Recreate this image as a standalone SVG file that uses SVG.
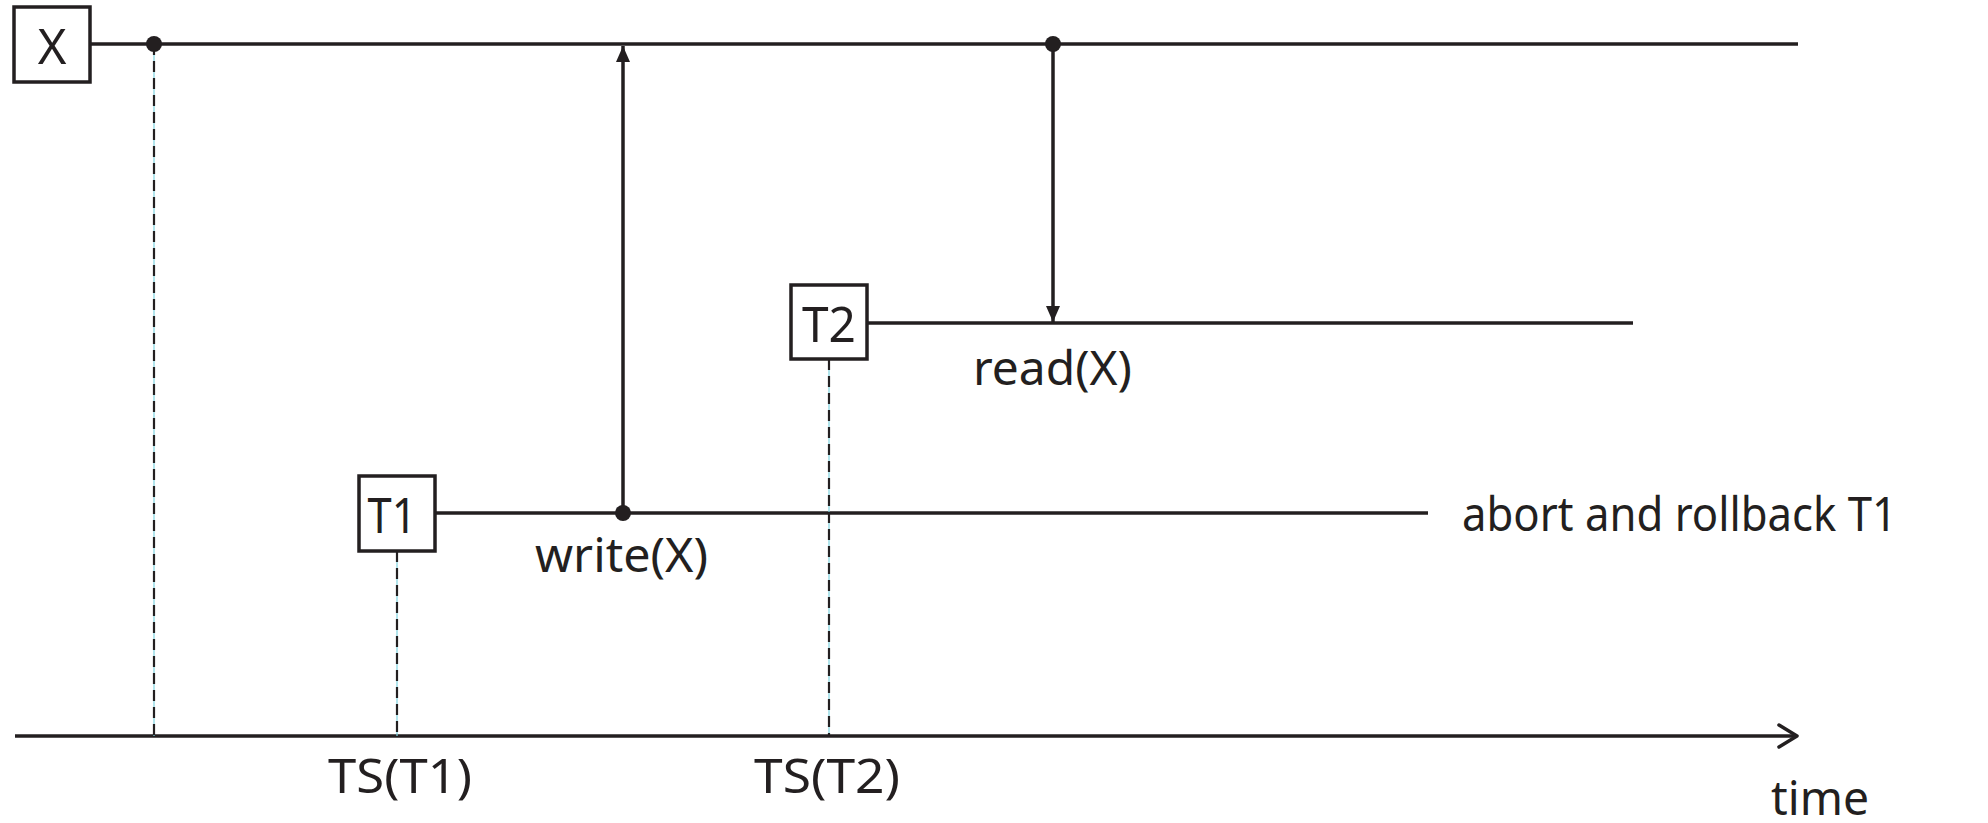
<svg xmlns="http://www.w3.org/2000/svg" width="1988" height="823" viewBox="0 0 1988 823">
  <style>
    .box { fill: #ffffff; stroke: #231f20; stroke-width: 3.5; }
    .line { fill: none; stroke: #231f20; stroke-width: 3.5; }
    .guide-bg { stroke: #7fd3e0; stroke-width: 1.2; fill: none; }
    .guide { stroke: #231f20; stroke-width: 2.2; stroke-dasharray: 11 6; fill: none; }
    .dot { fill: #231f20; }
    text { font-family: "Noto Sans", "DejaVu Sans", sans-serif; font-size: 47px; fill: #231f20; }
    .mid { text-anchor: middle; }
  </style>
  <defs>
    <marker id="head" viewBox="0 0 16 14" refX="16" refY="7" markerWidth="16" markerHeight="14" markerUnits="userSpaceOnUse" orient="auto">
      <path d="M0,0 L16,7 L0,14 Z" fill="#231f20"/>
    </marker>
    <marker id="open" viewBox="0 0 24 26" refX="21" refY="13" markerWidth="24" markerHeight="26" markerUnits="userSpaceOnUse" orient="auto">
      <path d="M3,2 L21,13 L3,24" fill="none" stroke="#231f20" stroke-width="3.5" stroke-linecap="round" stroke-linejoin="round"/>
    </marker>
  </defs>

  <g id="connectors">
    <!-- timelines -->
    <line class="line" x1="90" y1="44" x2="1798" y2="44"/>
    <line class="line" x1="867" y1="323" x2="1633" y2="323"/>
    <line class="line" x1="435" y1="513" x2="1428" y2="513"/>
    <!-- time axis -->
    <line class="line" x1="15" y1="736" x2="1797" y2="736" marker-end="url(#open)"/>
    <!-- timestamp guides -->
    <line class="guide-bg" x1="154" y1="44" x2="154" y2="736"/>
    <line class="guide" x1="154" y1="44" x2="154" y2="736"/>
    <line class="guide-bg" x1="397" y1="551" x2="397" y2="736"/>
    <line class="guide" x1="397" y1="551" x2="397" y2="736"/>
    <line class="guide-bg" x1="829" y1="359" x2="829" y2="736"/>
    <line class="guide" x1="829" y1="359" x2="829" y2="736"/>
    <!-- write and read -->
    <line class="line" x1="623" y1="513" x2="623" y2="46" marker-end="url(#head)"/>
    <line class="line" x1="1053" y1="44" x2="1053" y2="322" marker-end="url(#head)"/>
    <circle class="dot" cx="154" cy="44" r="8"/>
    <circle class="dot" cx="1053" cy="44" r="8"/>
    <circle class="dot" cx="623" cy="513" r="8"/>
  </g>

  <g id="node-x">
    <rect class="box" x="14" y="7" width="76" height="75"/>
    <text class="mid" x="52" y="64" style="font-size:49px">X</text>
  </g>
  <g id="node-t1">
    <rect class="box" x="359" y="476" width="76" height="75"/>
    <text class="mid" x="392" y="533" style="font-size:49px" textLength="49" lengthAdjust="spacingAndGlyphs">T1</text>
  </g>
  <g id="node-t2">
    <rect class="box" x="791" y="285" width="76" height="74"/>
    <text class="mid" x="829" y="342" style="font-size:49px" textLength="54" lengthAdjust="spacingAndGlyphs">T2</text>
  </g>

  <g id="labels">
    <text x="535" y="572" textLength="173" lengthAdjust="spacingAndGlyphs">write(X)</text>
    <text x="973" y="385" textLength="159" lengthAdjust="spacingAndGlyphs">read(X)</text>
    <text x="1462" y="531" textLength="435" lengthAdjust="spacingAndGlyphs">abort and rollback T1</text>
    <text x="328" y="793" textLength="144" lengthAdjust="spacingAndGlyphs">TS(T1)</text>
    <text x="754" y="793" textLength="146" lengthAdjust="spacingAndGlyphs">TS(T2)</text>
    <text x="1771" y="815" textLength="98" lengthAdjust="spacingAndGlyphs">time</text>
  </g>
</svg>
